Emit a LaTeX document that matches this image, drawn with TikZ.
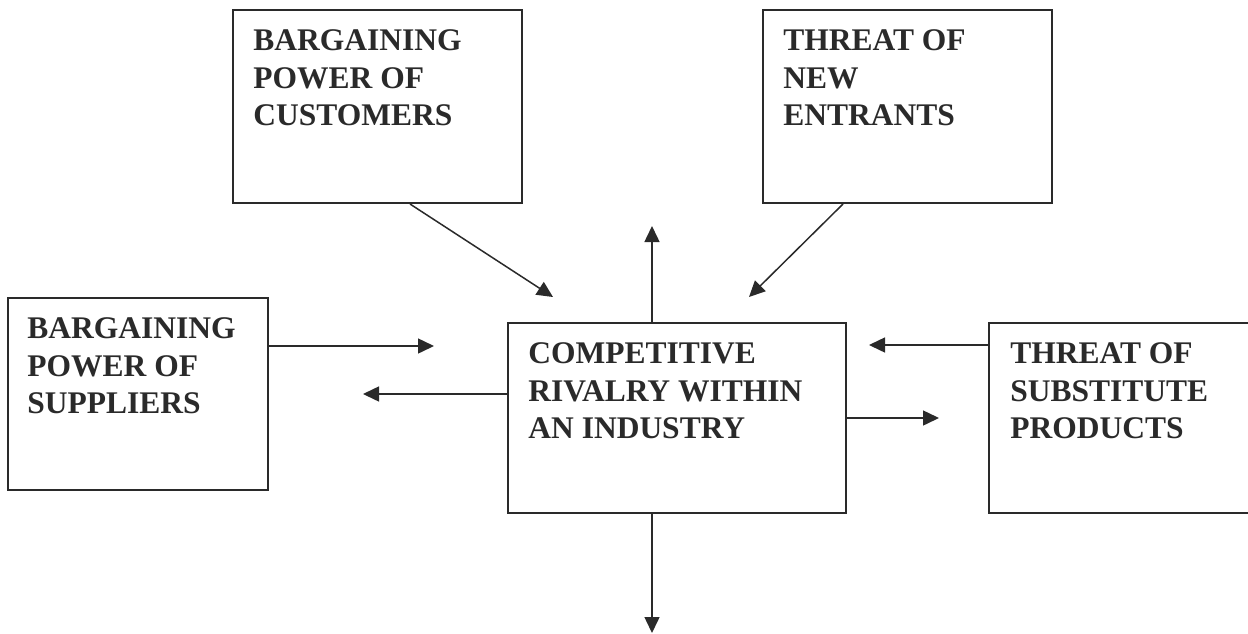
\documentclass[tikz,border=0pt]{standalone}
\usepackage{fontspec}
\setmainfont{Liberation Serif}
\usetikzlibrary{arrows.meta,calc}
\definecolor{ink}{HTML}{2A2A2A}
\tikzset{
  box/.style={draw=ink, line width=1pt, inner sep=0pt, anchor=north west},
  lbl/.style={anchor=north west, inner sep=0pt, align=left, text=ink,
    font=\fontsize{15.75pt}{18.9pt}\selectfont\bfseries},
  arr/.style={draw=ink, line width=0.75pt, -{Triangle[length=8pt,width=7.5pt]}}
}
\begin{document}
\begin{tikzpicture}[x=0.5pt,y=-0.5pt]
\useasboundingbox (0,0) rectangle (1248,633);
\clip (0,0) rectangle (1248,633);
% boxes
\node[box, minimum width=144.5pt, minimum height=96.5pt] (cust) at (232,9) {};
\node[box, minimum width=144.5pt, minimum height=96.5pt] (ent) at (762,9) {};
\node[box, minimum width=130pt, minimum height=96pt] (sup) at (7,297) {};
\node[box, minimum width=169pt, minimum height=95pt] (cen) at (507,322) {};
\node[box, minimum width=135pt, minimum height=95pt] (sub) at (988,322) {};
% texts
\node[lbl] (custt) at ($(cust.north west)+(21,20)$) {BARGAINING\\POWER OF\\CUSTOMERS};
\node[lbl] (entt) at ($(ent.north west)+(21,20)$) {THREAT OF\\NEW\\ENTRANTS};
\node[lbl] (supt) at ($(sup.north west)+(20,20)$) {BARGAINING\\POWER OF\\SUPPLIERS};
\node[lbl] (cent) at ($(cen.north west)+(21,20)$) {COMPETITIVE\\RIVALRY WITHIN\\AN INDUSTRY};
\node[lbl] (subt) at ($(sub.north west)+(22,20)$) {THREAT OF\\SUBSTITUTE\\PRODUCTS};
% arrow end points
\coordinate (t1) at (553,297);
\coordinate (t2) at (749,297);
\coordinate (t3) at (652,226);
\coordinate (t4) at (652,633);
\coordinate (t5) at (434,346);
\coordinate (t6) at (363,394);
\coordinate (t7) at (869,345);
\coordinate (t8) at (939,418);
% connectors
\draw[arr] ($(cust.south west)+(178,0)$) -- (t1);
\draw[arr] ($(ent.south west)+(81,0)$) -- (t2);
\draw[arr] ($(cen.north west)+(145,0)$) -- (t3);
\draw[arr] ($(cen.south west)+(145,0)$) -- (t4);
\draw[arr] ($(sup.north east)+(0,49)$) -- (t5);
\draw[arr] ($(cen.north west)+(0,72)$) -- (t6);
\draw[arr] ($(sub.north west)+(0,23)$) -- (t7);
\draw[arr] ($(cen.north east)+(0,96)$) -- (t8);
\end{tikzpicture}
\end{document}
